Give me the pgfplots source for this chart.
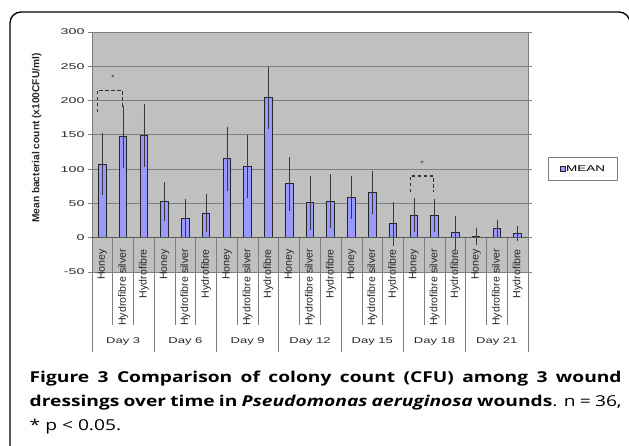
\documentclass[border=0pt]{standalone}
\usepackage{fontspec}
\setmainfont{Liberation Sans}
\newfontfamily\capfont[FakeStretch=1.28]{Open Sans}
\usepackage{pgfplots}
\usepackage{pgfplotstable}
\pgfplotsset{compat=1.18}
\definecolor{barblue}{HTML}{9999FF}
\definecolor{plotgray}{HTML}{C0C0C0}
\definecolor{gridgray}{HTML}{7F7F7F}
\pgfplotstableread{
x y e
0 107 41
1 147 41
2 149 41
3 53 24
4 28 24
5 36 24
6 115 42
7 104 42
8 204 41
9 79 35
10 51 35
11 53 35
12 59 27
13 66 27
14 20 27
15 33 20
16 32 20
17 7 20
18 2 8
19 13 8
20 6 7
}\datatable
\begin{document}
\begin{tikzpicture}
\useasboundingbox (0pt,0pt) rectangle (629pt,446pt);
\draw[line width=1.3pt, rounded corners=11pt] (10pt,-20pt) -- (10pt,434pt) -- (630pt,434pt) -- (630pt,400pt);
\begin{axis}[
  at={(92pt,174pt)}, anchor=south west,
  scale only axis, width=436pt, height=240pt,
  xmin=-0.5, xmax=20.5, ymin=-50, ymax=300,
  ytick={-50,0,...,300},
  xtick={0,...,20},
  xticklabels={Honey,Hydrofibre silver,Hydrofibre,Honey,Hydrofibre silver,Hydrofibre,Honey,Hydrofibre silver,Hydrofibre,Honey,Hydrofibre silver,Hydrofibre,Honey,Hydrofibre silver,Hydrofibre,Honey,Hydrofibre silver,Hydrofibre,Honey,Hydrofibre silver,Hydrofibre},
  axis background/.style={fill=plotgray},
  axis line style={draw=gridgray, line width=0.8pt},
  ymajorgrids, grid style={draw=gridgray, line width=0.8pt},
  ytick style={draw=gridgray, line width=0.8pt},
  xtick style={draw=none},
  tick align=outside, major tick length=4pt,
  /pgf/number format/assume math mode=true,
  yticklabel={\scalebox{1.7}[1]{\pgfmathprintnumber{\tick}}},
  yticklabel style={font=\fontsize{8.4}{10}\selectfont, text=black!85},
  xticklabel style={rotate=90, anchor=east, font=\fontsize{10.6}{12}\selectfont, inner sep=1pt, text=black!85},
  xticklabel shift=-28pt,
  ylabel={Mean bacterial count (x100CFU/ml)},
  ylabel style={font=\bfseries\fontsize{10.2}{12}\selectfont, at={(axis description cs:-0.127,0.558)}, anchor=center, text=black!85},
  legend style={at={(axis description cs:1.126,0.429)}, anchor=center, draw=gridgray, fill=white, line width=0.6pt, inner xsep=12pt, inner ysep=7pt, font=\fontsize{8.4}{10}\selectfont, nodes={inner sep=0.6pt}},
  clip=false,
]
\addplot[ybar, bar width=7.6pt, fill=barblue, draw=black!85, line width=1pt,
  legend image code/.code={\draw[fill=barblue, draw=black!85, line width=0.6pt] (0pt,-2.3pt) rectangle (4.6pt,2.3pt);},
  error bars/.cd, y dir=both, y explicit,
  error bar style={draw=gray!45!black, line width=0.6pt},
  error mark options={draw=gray!45!black, line width=0.6pt, mark size=3pt}]
  table[x=x, y=y, y error=e]{\datatable};
\addlegendentry{\scalebox{1.6}[1]{MEAN}}
\draw[gridgray!70!black, line width=0.9pt] (axis cs:-0.5,0) -- (axis cs:20.5,0);
\pgfplotsinvokeforeach{0.5,1.5,3.5,4.5,6.5,7.5,9.5,10.5,12.5,13.5,15.5,16.5,18.5,19.5}{
  \draw[gridgray, line width=0.8pt] (axis cs:#1,0) -- (axis cs:#1,-128);
}
\pgfplotsinvokeforeach{-0.5,2.5,5.5,8.5,11.5,14.5,17.5,20.5}{
  \draw[gridgray, line width=0.8pt] (axis cs:#1,0) -- (axis cs:#1,-166);
}
\node[font=\fontsize{8.4}{10}\selectfont, text=black!85] at (axis cs:1,-151) {\scalebox{1.55}[1]{Day 3}};
\node[font=\fontsize{8.4}{10}\selectfont, text=black!85] at (axis cs:4,-151) {\scalebox{1.55}[1]{Day 6}};
\node[font=\fontsize{8.4}{10}\selectfont, text=black!85] at (axis cs:7,-151) {\scalebox{1.55}[1]{Day 9}};
\node[font=\fontsize{8.4}{10}\selectfont, text=black!85] at (axis cs:10,-151) {\scalebox{1.55}[1]{Day 12}};
\node[font=\fontsize{8.4}{10}\selectfont, text=black!85] at (axis cs:13,-151) {\scalebox{1.55}[1]{Day 15}};
\node[font=\fontsize{8.4}{10}\selectfont, text=black!85] at (axis cs:16,-151) {\scalebox{1.55}[1]{Day 18}};
\node[font=\fontsize{8.4}{10}\selectfont, text=black!85] at (axis cs:19,-151) {\scalebox{1.55}[1]{Day 21}};
\draw[black!80, line width=1.1pt, dash pattern=on 3.5pt off 2.5pt] (axis cs:-0.25,183) -- (axis cs:-0.25,215) -- (axis cs:0.96,215) -- (axis cs:0.96,188);
\node[font=\fontsize{8}{10}\selectfont, text=black!80] at (axis cs:0.51,234) {*};
\draw[black!80, line width=1.1pt, dash pattern=on 3.5pt off 2.5pt] (axis cs:14.82,66) -- (axis cs:14.82,90) -- (axis cs:15.94,90) -- (axis cs:15.94,66);
\node[font=\fontsize{8}{10}\selectfont, text=black!80] at (axis cs:15.4,108) {*};
\end{axis}
\node[anchor=base west, inner sep=0pt, text width=592pt, align=justify, font=\capfont\fontsize{15}{24.2}\selectfont] at (29.5pt,63.7pt) {\textbf{Figure 3 Comparison of colony count (CFU) among 3 wound\linebreak dressings over time in \textit{Pseudomonas aeruginosa} wounds}. n = 36,\linebreak * p < 0.05.};
\end{tikzpicture}
\end{document}
